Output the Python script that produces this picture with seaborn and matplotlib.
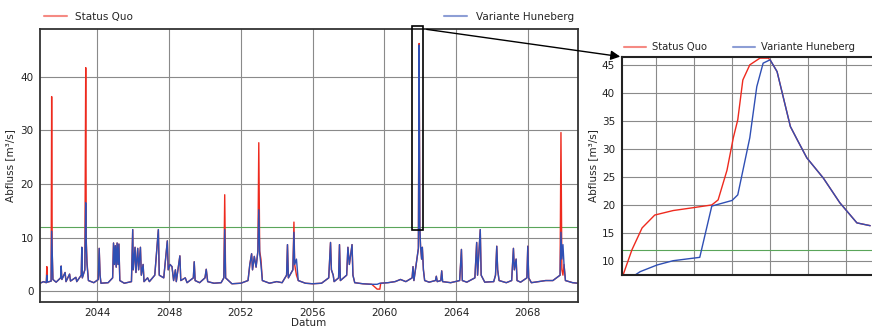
import matplotlib
matplotlib.use("Agg")
import matplotlib.pyplot as plt
from matplotlib.lines import Line2D
from matplotlib.patches import Rectangle
import pandas as pd
import seaborn as sns

# ---------------- data ----------------
years = [2040.8, 2041.0, 2041.15, 2041.18, 2041.21, 2041.42, 2041.45, 2041.48, 2041.52, 2041.7,
         2041.95, 2041.98, 2042.02, 2042.2, 2042.25, 2042.45, 2042.5, 2042.8, 2042.85, 2043.1,
         2043.13, 2043.16, 2043.3, 2043.35, 2043.38, 2043.42, 2043.5, 2043.8, 2044.05, 2044.1,
         2044.15, 2044.2, 2044.6, 2044.85, 2044.9, 2044.95, 2045.0, 2045.05, 2045.1, 2045.15,
         2045.2, 2045.25, 2045.5, 2045.9, 2045.97, 2046.0, 2046.1, 2046.15, 2046.25, 2046.3,
         2046.4, 2046.45, 2046.55, 2046.6, 2046.8, 2046.9, 2047.2, 2047.4, 2047.45, 2047.7,
         2047.9, 2047.95, 2048.05, 2048.16, 2048.25, 2048.35, 2048.4, 2048.6, 2048.65, 2048.9,
         2049.0, 2049.35, 2049.4, 2049.45, 2049.7, 2050.0, 2050.07, 2050.15, 2050.5, 2050.9,
         2051.05, 2051.1, 2051.15, 2051.5, 2052.0, 2052.4, 2052.5, 2052.6, 2052.65, 2052.75,
         2052.85, 2052.95, 2053.0, 2053.05, 2053.12, 2053.2, 2053.6, 2054.0, 2054.3, 2054.55,
         2054.6, 2054.65, 2054.9, 2054.96, 2055.0, 2055.1, 2055.2, 2055.6, 2056.0, 2056.5,
         2056.9, 2057.0, 2057.05, 2057.15, 2057.2, 2057.45, 2057.5, 2057.55, 2057.9, 2057.97,
         2058.05, 2058.2, 2058.25, 2058.35, 2058.8, 2059.3, 2059.6, 2059.75, 2059.8, 2060.2,
         2060.6, 2060.9, 2061.2, 2061.55, 2061.6, 2061.65, 2061.9, 2061.94, 2061.98, 2062.02,
         2062.08, 2062.12, 2062.18, 2062.25, 2062.5, 2062.85, 2062.9, 2062.95, 2063.15, 2063.2,
         2063.25, 2063.7, 2064.2, 2064.3, 2064.35, 2064.6, 2065.05, 2065.15, 2065.2, 2065.35,
         2065.4, 2065.6, 2066.1, 2066.2, 2066.27, 2066.32, 2066.4, 2066.8, 2067.1, 2067.2,
         2067.25, 2067.35, 2067.4, 2067.6, 2067.95, 2068.0, 2068.05, 2068.2, 2068.6, 2069.0,
         2069.4, 2069.8, 2069.85, 2069.9, 2069.96, 2070.02, 2070.1, 2070.5, 2070.8]

variante = [1.5, 1.8, 1.6, 3.0, 1.7, 1.9, 11.2, 7.0, 2.2, 1.7,
            2.5, 4.7, 2.2, 3.5, 1.8, 3.2, 1.9, 2.6, 1.8, 3.0,
            8.2, 2.5, 4.0, 16.5, 9.0, 5.0, 2.0, 1.6, 2.2, 8.0,
            3.0, 1.5, 1.6, 2.5, 9.0, 5.0, 8.5, 4.5, 9.0, 5.0,
            8.8, 2.0, 1.5, 1.8, 11.5, 4.0, 8.2, 3.5, 8.0, 4.0,
            8.2, 3.0, 5.0, 1.8, 2.5, 1.8, 3.0, 11.5, 3.0, 2.5,
            9.4, 4.0, 5.0, 4.6, 2.0, 4.0, 1.8, 6.6, 2.0, 2.5,
            1.6, 2.5, 5.5, 2.0, 1.6, 2.5, 4.1, 1.8, 1.5, 1.6,
            2.5, 11.5, 2.5, 1.4, 1.5, 2.0, 5.0, 7.0, 4.0, 6.5,
            4.5, 7.5, 15.2, 7.0, 5.0, 2.0, 1.5, 1.8, 1.6, 3.0,
            8.7, 2.5, 4.0, 11.0, 5.0, 6.0, 2.0, 1.5, 1.4, 1.5,
            2.5, 9.1, 4.0, 3.0, 1.8, 2.5, 8.7, 2.0, 3.0, 8.2,
            5.0, 8.7, 3.0, 1.6, 1.4, 1.3, 1.3, 1.5, 1.5, 1.6,
            1.8, 2.2, 1.8, 2.5, 4.6, 2.0, 8.0, 45.9, 12.0, 8.4,
            6.0, 8.2, 4.0, 2.0, 1.7, 2.0, 2.8, 1.8, 2.0, 3.8,
            1.8, 1.6, 2.0, 7.8, 2.0, 1.7, 2.5, 9.1, 3.0, 11.5,
            3.0, 1.7, 1.8, 3.0, 8.4, 4.0, 2.0, 1.6, 2.0, 8.0,
            4.0, 6.0, 2.0, 1.7, 2.5, 8.4, 2.5, 1.6, 1.8, 2.0,
            2.0, 3.0, 11.0, 6.0, 8.7, 5.0, 2.0, 1.6, 1.5]

status_quo = [1.5, 1.8, 1.6, 4.6, 1.7, 1.9, 36.3, 7.5, 2.2, 1.7,
              2.5, 4.7, 2.2, 3.5, 1.8, 3.2, 1.9, 2.6, 1.8, 3.0,
              8.2, 2.5, 4.0, 41.7, 9.5, 5.5, 2.0, 1.6, 2.2, 8.0,
              3.0, 1.5, 1.6, 2.5, 9.0, 5.0, 8.5, 4.5, 9.0, 5.0,
              8.8, 2.0, 1.5, 1.8, 11.5, 4.0, 8.2, 3.5, 8.0, 4.0,
              8.2, 3.0, 5.0, 1.8, 2.5, 1.8, 3.0, 11.5, 3.0, 2.5,
              9.4, 4.0, 5.0, 4.6, 2.0, 4.0, 1.8, 6.6, 2.0, 2.5,
              1.6, 2.5, 5.5, 2.0, 1.6, 2.5, 4.1, 1.8, 1.5, 1.6,
              2.5, 18.0, 2.5, 1.4, 1.5, 2.0, 5.0, 7.0, 4.0, 6.5,
              4.5, 7.5, 27.7, 7.5, 6.0, 2.0, 1.5, 1.8, 1.6, 3.0,
              8.7, 2.5, 4.0, 12.9, 5.0, 3.0, 2.0, 1.5, 1.4, 1.5,
              2.5, 9.1, 4.0, 3.0, 1.8, 2.5, 8.7, 2.0, 3.0, 8.2,
              5.0, 8.7, 3.0, 1.6, 1.4, 1.3, 0.4, 0.4, 1.5, 1.6,
              1.8, 2.2, 1.8, 2.5, 4.6, 2.0, 8.0, 46.2, 12.0, 8.4,
              6.0, 8.2, 4.0, 2.0, 1.7, 2.0, 2.8, 1.8, 2.0, 3.8,
              1.8, 1.6, 2.0, 7.8, 2.0, 1.7, 2.5, 9.1, 3.0, 11.5,
              3.0, 1.7, 1.8, 3.0, 8.4, 4.0, 2.0, 1.6, 2.0, 8.0,
              4.0, 6.0, 2.0, 1.7, 2.5, 8.4, 2.5, 1.6, 1.8, 2.0,
              2.0, 3.0, 29.6, 4.0, 3.0, 5.0, 2.0, 1.6, 1.5]

# zoom window (flood event, hours)
zoom_hours_sq = [0.8, 2.2, 3.8, 5.8, 8.7, 11.8, 14.8, 15.8, 17.2, 18.2, 18.9, 19.7, 20.8,
                 22.4, 23.7, 24.0, 25.1, 27.2, 28.3, 29.8, 32.4, 35.0, 37.7, 39.8]
zoom_sq = [7.5, 12.0, 15.9, 18.2, 19.0, 19.5, 20.0, 20.9, 26.2, 32.0, 35.2, 42.3, 45.0,
           46.2, 46.2, 45.9, 43.8, 34.0, 31.6, 28.4, 24.8, 20.4, 16.8, 16.3]
zoom_hours_hb = [2.7, 3.5, 6.2, 8.7, 12.9, 14.8, 18.0, 18.9, 20.8, 21.9, 22.9, 24.0, 25.1,
                 27.2, 28.3, 29.8, 32.4, 35.0, 37.7, 39.8]
zoom_hb = [7.5, 8.1, 9.3, 10.05, 10.65, 19.8, 20.8, 21.8, 32.0, 41.1, 45.3, 45.9, 43.8,
           34.0, 31.6, 28.4, 24.8, 20.4, 16.8, 16.3]

threshold = 12.0
labels = ["Status Quo", "Variante Huneberg"]
main_xticks = [2044, 2048, 2052, 2056, 2060, 2064, 2068]

# ---------------- styling ----------------
sns.set_style("white")
plt.rcParams["font.family"] = ["DejaVu Sans"]
plt.rcParams["font.size"] = 7.5

RED = "#ee2a1e"
BLUE = "#2f4fb4"
GREEN = "#5aa55a"
W, H = 872, 327

fig = plt.figure(figsize=(W / 100, H / 100), dpi=100)
ax = fig.add_axes([40 / W, 1 - 302 / H, (578 - 40) / W, (302 - 29) / H])
axz = fig.add_axes([622 / W, 1 - 275 / H, (874 - 622) / W, (275 - 57) / H])

df = pd.DataFrame({
    "Datum": years * 2,
    "Abfluss": status_quo + variante,
    "Serie": [labels[0]] * len(years) + [labels[1]] * len(years),
})
sns.lineplot(data=df, x="Datum", y="Abfluss", hue="Serie",
             palette={labels[0]: RED, labels[1]: BLUE},
             estimator=None, sort=False, legend=False, lw=1.0, ax=ax)
ax.axhline(threshold, color=GREEN, lw=0.8, zorder=1)

ax.set_xlim(2040.8, 2070.8)
ax.set_ylim(-2, 48.9)
ax.set_xticks(main_xticks)
ax.set_xticklabels([str(t) for t in main_xticks])
ax.set_yticks([0, 10, 20, 30, 40])
ax.grid(True, color="#8a8a8a", lw=0.8)
ax.set_axisbelow(True)
for s in ax.spines.values():
    s.set_color("#333333")
    s.set_linewidth(1.3)
ax.tick_params(length=3, width=0.8, pad=1.5, labelsize=7.5, colors="#222222")
ax.set_xlabel("Datum", fontsize=7.5, labelpad=-0.5)
ax.set_ylabel("Abfluss [m³/s]", fontsize=7.5, labelpad=4)

# rectangle marking zoom window
ax.add_patch(Rectangle((2061.57, 11.5), 0.61, 38.0, fill=False, ec="black", lw=1.2,
                       clip_on=False, zorder=5))

# zoom axes
dz = pd.DataFrame({
    "t": zoom_hours_sq + zoom_hours_hb,
    "q": zoom_sq + zoom_hb,
    "Serie": [labels[0]] * len(zoom_sq) + [labels[1]] * len(zoom_hb),
})
sns.lineplot(data=dz, x="t", y="q", hue="Serie",
             palette={labels[0]: RED, labels[1]: BLUE},
             estimator=None, sort=False, legend=False, lw=1.0, ax=axz)
axz.axhline(threshold, color=GREEN, lw=0.8, zorder=1)
axz.set_xlim(0.63, 40.4)
axz.set_ylim(7.5, 46.4)
axz.set_xticks([6, 12, 18, 24, 30, 36])
axz.set_xticklabels([])
axz.set_yticks([10, 15, 20, 25, 30, 35, 40, 45])
axz.grid(True, color="#8a8a8a", lw=0.8)
axz.set_axisbelow(True)
axz.tick_params(axis="x", length=0)
axz.tick_params(axis="y", length=3, width=0.8, pad=2, labelsize=7.5, colors="#222222")
for s in axz.spines.values():
    s.set_color("#222222")
    s.set_linewidth(1.5)
axz.spines["right"].set_visible(False)
axz.set_xlabel("")
axz.set_ylabel("Abfluss [m³/s]", fontsize=7.5, labelpad=3)

# arrow from rectangle to zoom axes
fig.patches.append(matplotlib.patches.FancyArrowPatch(
    (424 / W, 1 - 29 / H), (623 / W, 1 - 57 / H), transform=fig.transFigure,
    arrowstyle="-|>", mutation_scale=14, color="black", lw=1.0))

# legends
handles = [Line2D([], [], color=RED, lw=1.5, alpha=0.55),
           Line2D([], [], color=BLUE, lw=1.5, alpha=0.55)]
ax.legend(handles, labels, ncol=2, mode="expand", frameon=False, fontsize=7.5,
          bbox_to_anchor=(0.0, 1.01, 1.0, 0.1), loc="lower left", borderaxespad=0,
          handlelength=2.2, handletextpad=0.8)
axz.legend(handles, labels, ncol=2, frameon=False, fontsize=7.2,
           bbox_to_anchor=(-0.01, 1.0), loc="lower left", borderaxespad=0.1,
           handlelength=2.2, handletextpad=0.6, columnspacing=2.6)

fig.savefig("out.png", dpi=100)
